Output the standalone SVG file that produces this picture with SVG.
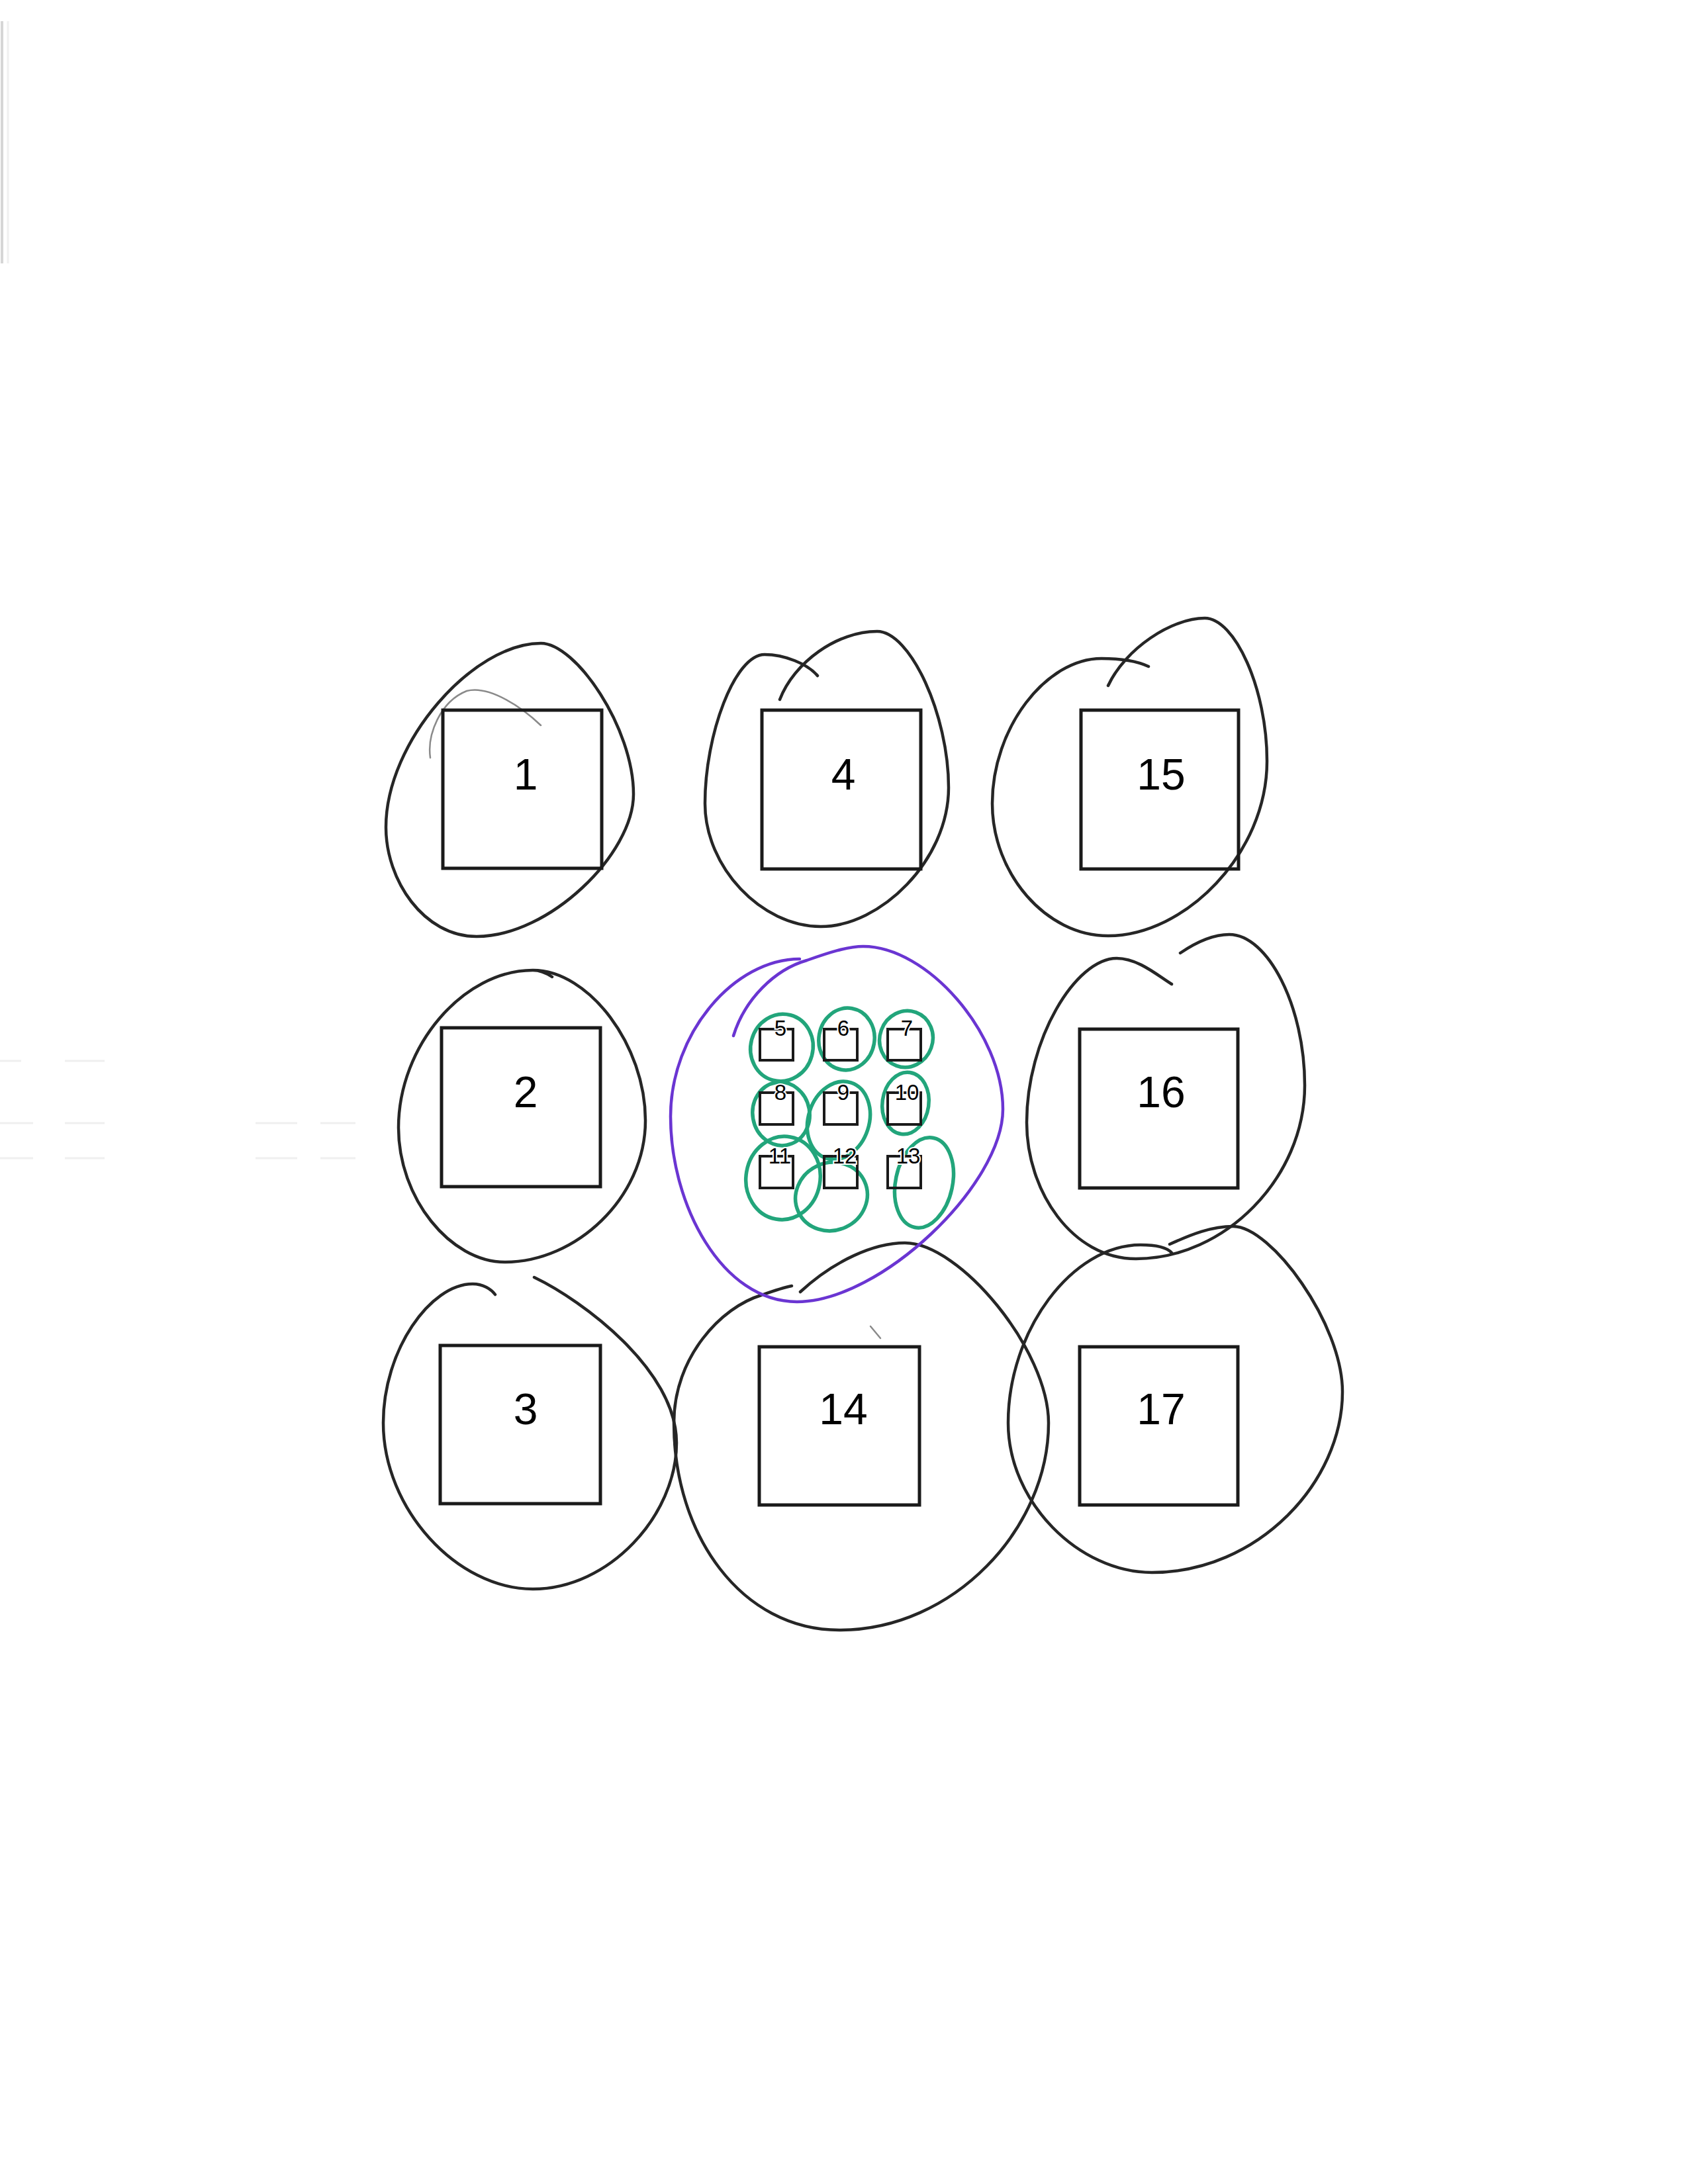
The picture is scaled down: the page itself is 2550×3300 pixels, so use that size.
<svg xmlns="http://www.w3.org/2000/svg" width="2550" height="3300" viewBox="0 0 2550 3300">
<style>
.loop{fill:none;stroke:#262626;stroke-width:4.5;stroke-linecap:round;stroke-linejoin:round}
.faint{fill:none;stroke:#8a8a8a;stroke-width:2.5;stroke-linecap:round}
.box{fill:none;stroke:#1a1a1a;stroke-width:5}
.sbox{fill:none;stroke:#1a1a1a;stroke-width:4}
.big{font-family:"Liberation Sans",Arial,sans-serif;font-size:66px;fill:#000;text-anchor:middle}
.small{font-family:"Liberation Sans",Arial,sans-serif;font-size:33px;fill:#000;text-anchor:middle;stroke:#fff;stroke-width:4;paint-order:stroke}
.green{fill:none;stroke:#22a57b;stroke-width:5.5}
.purple{fill:none;stroke:#6a35d2;stroke-width:4.5;stroke-linecap:round}
.scan{stroke:#efefef;stroke-width:3}
</style>
<rect width="2550" height="3300" fill="#fff"/>
<g id="scan-marks">
<line x1="3" y1="32" x2="3" y2="398" stroke="#d6d6d6" stroke-width="4"/>
<line x1="12" y1="32" x2="12" y2="398" stroke="#f0f0f0" stroke-width="3"/>
<line class="scan" x1="0" y1="1603" x2="32" y2="1603"/><line class="scan" x1="98" y1="1603" x2="158" y2="1603"/>
<line class="scan" x1="386" y1="1697" x2="449" y2="1697"/><line class="scan" x1="484" y1="1697" x2="537" y2="1697"/>
<line class="scan" x1="0" y1="1697" x2="50" y2="1697"/><line class="scan" x1="98" y1="1697" x2="158" y2="1697"/>
<line class="scan" x1="386" y1="1750" x2="449" y2="1750"/><line class="scan" x1="484" y1="1750" x2="537" y2="1750"/>
<line class="scan" x1="0" y1="1750" x2="50" y2="1750"/><line class="scan" x1="98" y1="1750" x2="158" y2="1750"/>
</g>
<g id="node-1">
<path class="loop" d="M817,972 C870,972 957,1100 957,1200 C957,1290 830,1415 720,1415 C640,1415 583,1330 583,1250 C583,1120 715,972 817,972 Z"/>
<path class="faint" d="M650,1145 C645,1110 665,1060 705,1044 C740,1035 790,1070 817,1096"/>
<rect class="box" x="669" y="1073" width="240" height="239"/>
<text class="big" x="794" y="1193">1</text>
</g>
<g id="node-4">
<path class="loop" d="M1178,1057 C1200,1000 1265,954 1325,954 C1375,954 1433,1080 1433,1190 C1433,1300 1330,1400 1240,1400 C1150,1400 1065,1310 1065,1214 C1065,1110 1110,989 1155,989 C1185,989 1220,1003 1235,1021"/>
<rect class="box" x="1151" y="1073" width="240" height="240"/>
<text class="big" x="1274" y="1193">4</text>
</g>
<g id="node-15">
<path class="loop" d="M1674,1036 C1700,980 1770,934 1820,934 C1865,934 1914,1040 1914,1150 C1914,1290 1790,1414 1674,1414 C1580,1414 1499,1320 1499,1214 C1499,1100 1580,995 1664,995 C1695,995 1720,1000 1735,1007"/>
<rect class="box" x="1633" y="1073" width="238" height="240"/>
<text class="big" x="1754" y="1193">15</text>
</g>
<g id="node-2">
<path class="loop" d="M805,1466 C890,1466 975,1580 975,1693 C975,1810 870,1907 763,1907 C680,1907 602,1810 602,1704 C602,1580 700,1466 805,1466 C815,1466 825,1470 834,1476"/>
<rect class="box" x="667" y="1553" width="240" height="240"/>
<text class="big" x="794" y="1673">2</text>
</g>
<g id="node-16">
<path class="loop" d="M1783,1440 C1805,1425 1830,1412 1857,1412 C1915,1412 1971,1520 1971,1640 C1971,1780 1850,1902 1716,1902 C1620,1902 1551,1800 1551,1696 C1551,1570 1625,1448 1687,1448 C1720,1448 1750,1475 1770,1487"/>
<rect class="box" x="1631" y="1555" width="239" height="240"/>
<text class="big" x="1754" y="1673">16</text>
</g>
<g id="node-3">
<path class="loop" d="M807,1930 C880,1965 1022,2070 1022,2180 C1022,2290 920,2401 805,2401 C690,2401 579,2280 579,2150 C579,2040 650,1940 714,1940 C730,1940 742,1948 748,1956"/>
<rect class="box" x="665" y="2033" width="242" height="239"/>
<text class="big" x="794" y="2152">3</text>
</g>
<g id="node-14">
<path class="loop" d="M1209,1952 C1260,1905 1320,1878 1367,1878 C1450,1878 1584,2040 1584,2150 C1584,2310 1440,2463 1268,2463 C1120,2463 1018,2320 1018,2150 C1018,2050 1090,1975 1150,1957 C1170,1950 1185,1945 1196,1943"/>
<line class="faint" x1="1315" y1="2004" x2="1330" y2="2022"/>
<rect class="box" x="1147" y="2035" width="242" height="239"/>
<text class="big" x="1274" y="2152">14</text>
</g>
<g id="node-17">
<path class="loop" d="M1767,1880 C1800,1865 1830,1853 1863,1853 C1920,1853 2028,2000 2028,2103 C2028,2240 1900,2376 1740,2376 C1630,2376 1523,2270 1523,2150 C1523,2010 1620,1881 1723,1881 C1745,1881 1763,1885 1770,1893"/>
<rect class="box" x="1631" y="2035" width="239" height="239"/>
<text class="big" x="1754" y="2152">17</text>
</g>
<g id="cluster">
<path class="purple" d="M1108,1565 C1125,1510 1170,1465 1219,1451 C1250,1440 1280,1430 1304,1430 C1400,1430 1515,1560 1515,1676 C1515,1790 1330,1967 1204,1967 C1090,1967 1013,1820 1013,1687 C1013,1560 1110,1449 1208,1449"/>
<g id="node-5"><ellipse class="green" cx="1181" cy="1583" rx="47" ry="51" transform="rotate(15 1181 1583)"/><rect class="sbox" x="1148" y="1555" width="50" height="47"/><text class="small" x="1179" y="1565">5</text></g>
<g id="node-6"><ellipse class="green" cx="1279" cy="1570" rx="42" ry="47" transform="rotate(10 1279 1570)"/><rect class="sbox" x="1245" y="1555" width="50" height="47"/><text class="small" x="1274" y="1565">6</text></g>
<g id="node-7"><ellipse class="green" cx="1369" cy="1570" rx="40" ry="43" transform="rotate(20 1369 1570)"/><rect class="sbox" x="1341" y="1555" width="50" height="47"/><text class="small" x="1370" y="1565">7</text></g>
<g id="node-8"><ellipse class="green" cx="1180" cy="1683" rx="43" ry="48" transform="rotate(-10 1180 1683)"/><rect class="sbox" x="1148" y="1651" width="50" height="48"/><text class="small" x="1179" y="1662">8</text></g>
<g id="node-9"><ellipse class="green" cx="1267" cy="1693" rx="46" ry="60" transform="rotate(18 1267 1693)"/><rect class="sbox" x="1245" y="1651" width="50" height="48"/><text class="small" x="1274" y="1662">9</text></g>
<g id="node-10"><ellipse class="green" cx="1368" cy="1667" rx="35" ry="47" transform="rotate(8 1368 1667)"/><rect class="sbox" x="1341" y="1651" width="50" height="48"/><text class="small" x="1370" y="1662">10</text></g>
<g id="node-11"><ellipse class="green" cx="1183" cy="1780" rx="56" ry="63" transform="rotate(10 1183 1780)"/><rect class="sbox" x="1148" y="1747" width="50" height="48"/><text class="small" x="1178" y="1758">11</text></g>
<g id="node-12"><ellipse class="green" cx="1256" cy="1808" rx="55" ry="51" transform="rotate(-25 1256 1808)"/><rect class="sbox" x="1245" y="1747" width="50" height="48"/><text class="small" x="1276" y="1758">12</text></g>
<g id="node-13"><ellipse class="green" cx="1396" cy="1787" rx="43" ry="69" transform="rotate(12 1396 1787)"/><rect class="sbox" x="1341" y="1747" width="50" height="48"/><text class="small" x="1372" y="1758">13</text></g>
</g>
<g id="connectors"/>
</svg>
